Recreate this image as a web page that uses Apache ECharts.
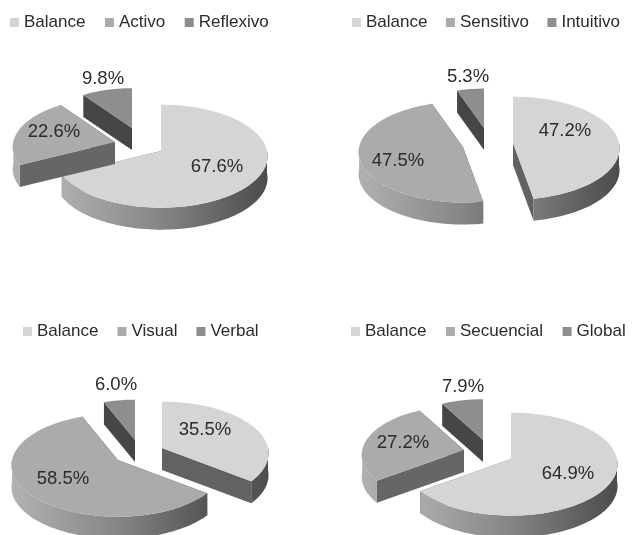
<!DOCTYPE html>
<html>
<head>
<meta charset="utf-8">
<style>
  html, body { margin: 0; padding: 0; background: #fff; }
  #chart { width: 632px; height: 535px; }
</style>
<script src="https://cdn.jsdelivr.net/npm/echarts@6/dist/echarts.min.js"></script>
</head>
<body>
<div id="chart"></div>
<script>
// values, one pair of arrays per pie (percent)
const procesamientoCats = ['Balance', 'Activo', 'Reflexivo'];
const procesamientoVals = [67.6, 22.6, 9.8];
const percepcionCats = ['Balance', 'Sensitivo', 'Intuitivo'];
const percepcionVals = [47.2, 47.5, 5.3];
const entradaCats = ['Balance', 'Visual', 'Verbal'];
const entradaVals = [35.5, 58.5, 6.0];
const comprensionCats = ['Balance', 'Secuencial', 'Global'];
const comprensionVals = [64.9, 27.2, 7.9];

const topColors = ['#d4d5d7', '#a9abad', '#8c8e90'];
const cutColors = ['#626262', '#666666', '#464646'];
const textColor = '#2b2b2b';
const fontName = '"Liberation Sans", Arial, sans-serif';

// where each pie sits: apex of every slice, per-slice size and label spot
const pies = [
  { cats: procesamientoCats, vals: procesamientoVals, legend: [10, 14], gap: 19.5,
    apex: [[161, 151], [115, 142], [132, 128]], scale: [1, 0.96, 0.86],
    labels: [[217, 167], [54, 132], [103, 79]] },
  { cats: percepcionCats, vals: percepcionVals, legend: [352, 14], gap: 18.5,
    apex: [[513, 143], [463, 147], [484, 128]], scale: [1, 0.98, 0.85],
    labels: [[565, 131], [398, 161], [468, 77]] },
  { cats: entradaCats, vals: entradaVals, legend: [23, 323], gap: 19,
    apex: [[162, 448], [118, 460], [135, 440]], scale: [1, 1, 0.87],
    labels: [[205, 430], [63, 479], [116, 385]] },
  { cats: comprensionCats, vals: comprensionVals, legend: [351, 323], gap: 19.5,
    apex: [[511, 459], [464, 450], [483, 440]], scale: [1, 0.96, 0.88],
    labels: [[568, 474], [403, 443], [463, 387]] }
];

const RX = 106, RY = 51, PERSP = 0.1, DEPTH = 22;

// angle is clockwise from 12 o'clock, in degrees
function rimPoint(apex, size, deg) {
  const a = deg * Math.PI / 180;
  const s = size / (1 + PERSP * Math.cos(a));
  return [apex[0] + RX * Math.sin(a) * s, apex[1] - RY * Math.cos(a) * s];
}

function arcPoints(apex, size, from, to) {
  const pts = [];
  const n = Math.max(2, Math.ceil((to - from) / 2));
  for (let i = 0; i <= n; i++) pts.push(rimPoint(apex, size, from + (to - from) * i / n));
  return pts;
}

const down = p => [p[0], p[1] + DEPTH];

function makeRenderItem(pie, idx, from, to) {
  return function (params, api) {
    const apex = pie.apex[idx];
    const size = pie.scale[idx];
    const rim = arcPoints(apex, size, from, to);
    const children = [];

    // the two cut faces
    [rim[0], rim[rim.length - 1]].forEach(p => {
      children.push({
        type: 'polygon',
        shape: { points: [apex, p, down(p), down(apex)] },
        style: { fill: cutColors[idx] }
      });
    });

    // outer wall, only the part that faces us
    const wFrom = Math.max(from, 90), wTo = Math.min(to, 270);
    if (wTo > wFrom) {
      const wall = arcPoints(apex, size, wFrom, wTo);
      children.push({
        type: 'polygon',
        shape: { points: wall.concat(wall.map(down).reverse()) },
        style: {
          fill: new echarts.graphic.LinearGradient(apex[0] - RX, 0, apex[0] + RX, 0, [
            { offset: 0, color: '#b2b2b2' },
            { offset: 0.5, color: '#858585' },
            { offset: 1, color: '#4c4c4c' }
          ], true)
        }
      });
    }

    // top surface
    children.push({
      type: 'polygon',
      shape: { points: [apex].concat(rim) },
      style: { fill: topColors[idx] }
    });

    children.push({
      type: 'text',
      style: {
        x: pie.labels[idx][0],
        y: pie.labels[idx][1],
        text: api.value(0).toFixed(1) + '%',
        fill: textColor,
        font: '18.5px ' + fontName,
        align: 'center',
        verticalAlign: 'middle'
      }
    });
    return { type: 'group', children: children };
  };
}

const series = [];
pies.forEach(pie => {
  let start = 0;
  const spans = pie.vals.map(v => {
    const span = [start, start + v * 3.6];
    start = span[1];
    return span;
  });
  // back slices first
  [2, 0, 1].forEach(i => {
    series.push({
      type: 'custom',
      name: pie.cats[i],
      coordinateSystem: 'none',
      silent: true,
      itemStyle: { color: topColors[i] },
      data: [[pie.vals[i]]],
      renderItem: makeRenderItem(pie, i, spans[i][0], spans[i][1])
    });
  });
});

const legends = pies.map(pie => ({
  data: pie.cats,
  left: pie.legend[0],
  top: pie.legend[1],
  orient: 'horizontal',
  icon: 'rect',
  itemWidth: 9,
  itemHeight: 9,
  itemGap: pie.gap,
  selectedMode: false,
  padding: 0,
  textStyle: { color: textColor, fontSize: 17, fontFamily: fontName }
}));

const myChart = echarts.init(document.getElementById('chart'));
myChart.setOption({
  animation: false,
  backgroundColor: '#ffffff',
  legend: legends,
  series: series
});
</script>
</body>
</html>
